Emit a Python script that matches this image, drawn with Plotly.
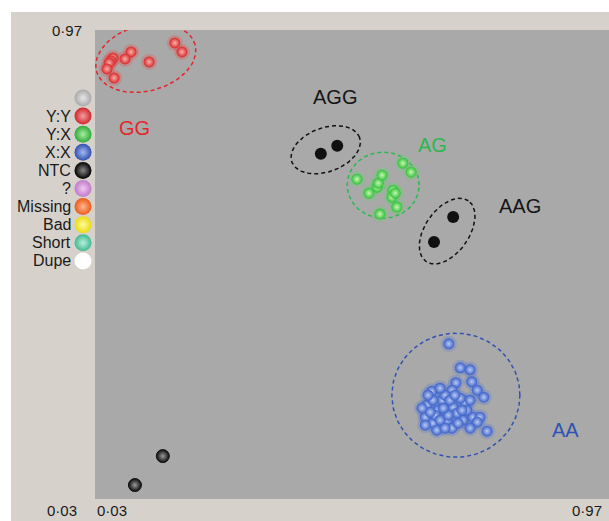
import numpy as np
import plotly.graph_objects as go

# ---- genotype calls (allele X signal, allele Y signal) ----
gg_x = [0.176, 0.189, 0.096, 0.085, 0.129, 0.063, 0.059, 0.056, 0.052, 0.065]
gg_y = [0.944, 0.926, 0.926, 0.912, 0.906, 0.914, 0.908, 0.904, 0.892, 0.874]

ag_x = [0.509, 0.531, 0.546, 0.548, 0.555, 0.575, 0.573, 0.579, 0.582, 0.551, 0.593, 0.608]
ag_y = [0.671, 0.643, 0.655, 0.663, 0.679, 0.649, 0.635, 0.643, 0.615, 0.601, 0.703, 0.685]

aa_x = [0.677, 0.698, 0.716, 0.719, 0.729, 0.741, 0.747,
        0.646, 0.690, 0.683, 0.637, 0.634, 0.648, 0.674, 0.683, 0.703, 0.721,
        0.734, 0.707, 0.665, 0.657, 0.685, 0.670, 0.648, 0.652, 0.692, 0.661,
        0.643, 0.679, 0.698, 0.710, 0.729, 0.694, 0.676, 0.628,
        0.661, 0.639, 0.655, 0.670, 0.716, 0.701, 0.688, 0.634, 0.716, 0.667]
aa_y = [0.341, 0.293, 0.289, 0.265, 0.248, 0.234, 0.166,
        0.246, 0.263, 0.248, 0.218, 0.194, 0.182, 0.188, 0.172, 0.188, 0.194,
        0.194, 0.224, 0.228, 0.208, 0.214, 0.238, 0.228, 0.198, 0.202, 0.188,
        0.204, 0.228, 0.232, 0.208, 0.184, 0.182, 0.198, 0.212,
        0.252, 0.238, 0.168, 0.172, 0.172, 0.208, 0.238, 0.178, 0.228, 0.212]

agg_x = [0.443, 0.473]
agg_y = [0.722, 0.738]
aag_x = [0.650, 0.685]
aag_y = [0.545, 0.595]

ntc_x = [0.103, 0.154]
ntc_y = [0.058, 0.116]

axis_min, axis_max = 0.03, 0.97
tick_labels = ["0·03", "0·97"]

legend_labels = ["", "Y:Y", "Y:X", "X:X", "NTC", "?", "Missing", "Bad", "Short", "Dupe"]

# ---- layout geometry (pixels) ----
W, H = 609, 521
PL, PR, PT, PB = 95, 609, 30, 499          # grey plotting area
FRAME_L, FRAME_T = 11, 12                 # beige frame origin
SX = (PR - PL) / (axis_max - axis_min)    # px per unit, x
SY = (PB - PT) / (axis_max - axis_min)    # px per unit, y

FONT = "Liberation Sans, Arial, Helvetica, sans-serif"
RED, GREEN, BLUE = "#e3262b", "#2cb84f", "#2f53b4"


def ellipse(cx, cy, a_px, b_px, ang_deg, n=120):
    t = np.linspace(0, 2 * np.pi, n)
    th = np.deg2rad(ang_deg)
    dx = a_px * np.cos(t) * np.cos(th) - b_px * np.sin(t) * np.sin(th)
    dy = a_px * np.cos(t) * np.sin(th) + b_px * np.sin(t) * np.cos(th)
    return cx + dx / SX, cy + dy / SY


fig = go.Figure()

# cluster outlines
rings = [
    (0.123, 0.914, 51, 33, 15, RED),
    (0.452, 0.730, 36, 22, 20, "#111111"),
    (0.674, 0.567, 37, 22, 55, "#111111"),
    (0.557, 0.659, 36, 33, 0, GREEN),
    (0.690, 0.238, 64, 62, 0, BLUE),
]
for cx, cy, a, b, ang, col in rings:
    ex, ey = ellipse(cx, cy, a, b, ang)
    fig.add_trace(go.Scatter(x=ex, y=ey, mode="lines", hoverinfo="skip",
                             line=dict(color=col, width=1.5, dash="4px,3px")))


def glow_points(xs, ys, edge, centre, halo, size=11):
    # soft halo behind each sphere
    fig.add_trace(go.Scatter(x=xs, y=ys, mode="markers", hoverinfo="skip",
                             marker=dict(size=size + 5, color=halo, opacity=0.3,
                                         line=dict(width=0))))
    fig.add_trace(go.Scatter(x=xs, y=ys, mode="markers",
                             marker=dict(size=size, color=edge,
                                         gradient=dict(type="radial", color=centre),
                                         line=dict(width=0))))


glow_points(gg_x, gg_y, "#d8262a", "#f7b1a8", "#e85050")
glow_points(ag_x, ag_y, "#2fbf3a", "#c8f5b0", "#5ad860")
glow_points(aa_x, aa_y, "#3a5fc8", "#b8caf2", "#5a7ad8")

# no-template controls
fig.add_trace(go.Scatter(x=agg_x + aag_x, y=agg_y + aag_y, mode="markers",
                         marker=dict(size=12, color="#111111", line=dict(width=0))))
fig.add_trace(go.Scatter(x=ntc_x, y=ntc_y, mode="markers",
                         marker=dict(size=13, color="#0c0c0c",
                                     gradient=dict(type="radial", color="#9a9a9a"),
                                     line=dict(width=1, color="#111111"))))

# legend swatches on their own pixel-scaled axes
leg_edge = ["#a9a9a9", "#d0262a", "#2faa3a", "#3050b0", "#000000",
            "#c07ac8", "#ec5a1a", "#e8dc10", "#40b890", "#ffffff"]
leg_centre = ["#e6e6e6", "#f0a0a0", "#a8eea0", "#a8b8ee", "#8a8a8a",
              "#f2c8f2", "#ffb890", "#fffaa0", "#b8f0dc", "#ffffff"]
leg_y = [98 + 18.1 * i for i in range(len(legend_labels))]
for i, lab in enumerate(legend_labels):
    fig.add_trace(go.Scatter(x=[83], y=[leg_y[i]], xaxis="x2", yaxis="y2",
                             mode="markers", hoverinfo="skip",
                             marker=dict(size=17, color=leg_edge[i],
                                         gradient=dict(type="radial", color=leg_centre[i]),
                                         line=dict(width=0))))
    if lab:
        fig.add_annotation(x=73, y=leg_y[i], xref="x2", yref="y2", text=lab,
                           showarrow=False, xanchor="right", yanchor="middle",
                           font=dict(family=FONT, size=16, color="#1a1a1a"))

# cluster names
for txt, x, y, col in [("GG", 0.103, 0.774, RED), ("AGG", 0.469, 0.836, "#151515"),
                       ("AG", 0.648, 0.740, GREEN), ("AAG", 0.807, 0.617, "#151515"),
                       ("AA", 0.891, 0.168, BLUE)]:
    fig.add_annotation(x=x, y=y, text=txt, showarrow=False,
                       font=dict(family=FONT, size=20, color=col))

# axis end labels
tick_font = dict(family=FONT, size=15, color="#1a1a1a")
fig.add_annotation(x=84 / W, y=1 - 31 / H, xref="paper", yref="paper", text=tick_labels[1],
                   showarrow=False, xanchor="right", yanchor="middle", font=tick_font)
fig.add_annotation(x=79 / W, y=1 - 510 / H, xref="paper", yref="paper", text=tick_labels[0],
                   showarrow=False, xanchor="right", yanchor="middle", font=tick_font)
fig.add_annotation(x=95 / W, y=1 - 510 / H, xref="paper", yref="paper", text=tick_labels[0],
                   showarrow=False, xanchor="left", yanchor="middle", font=tick_font)
fig.add_annotation(x=604 / W, y=1 - 510 / H, xref="paper", yref="paper", text=tick_labels[1],
                   showarrow=False, xanchor="right", yanchor="middle", font=tick_font)

fig.update_layout(
    width=W, height=H, margin=dict(l=0, r=0, t=0, b=0),
    paper_bgcolor="#ffffff", plot_bgcolor="rgba(0,0,0,0)", showlegend=False,
    xaxis=dict(domain=[PL / W, PR / W], range=[axis_min, axis_max], visible=False, fixedrange=True),
    yaxis=dict(domain=[1 - PB / H, 1 - PT / H], range=[axis_min, axis_max], visible=False, fixedrange=True),
    xaxis2=dict(domain=[0, PL / W], range=[0, PL], visible=False, fixedrange=True),
    yaxis2=dict(domain=[0, 1], range=[H, 0], visible=False, fixedrange=True),
    shapes=[
        dict(type="rect", xref="paper", yref="paper", layer="below",
             x0=FRAME_L / W, x1=1, y0=0, y1=1 - FRAME_T / H,
             fillcolor="#d6d2cb", line=dict(width=0)),
        dict(type="rect", xref="paper", yref="paper", layer="below",
             x0=PL / W, x1=1, y0=1 - PB / H, y1=1 - PT / H,
             fillcolor="#a9a9a9", line=dict(width=0)),
    ],
)

fig.write_html("out.html")
